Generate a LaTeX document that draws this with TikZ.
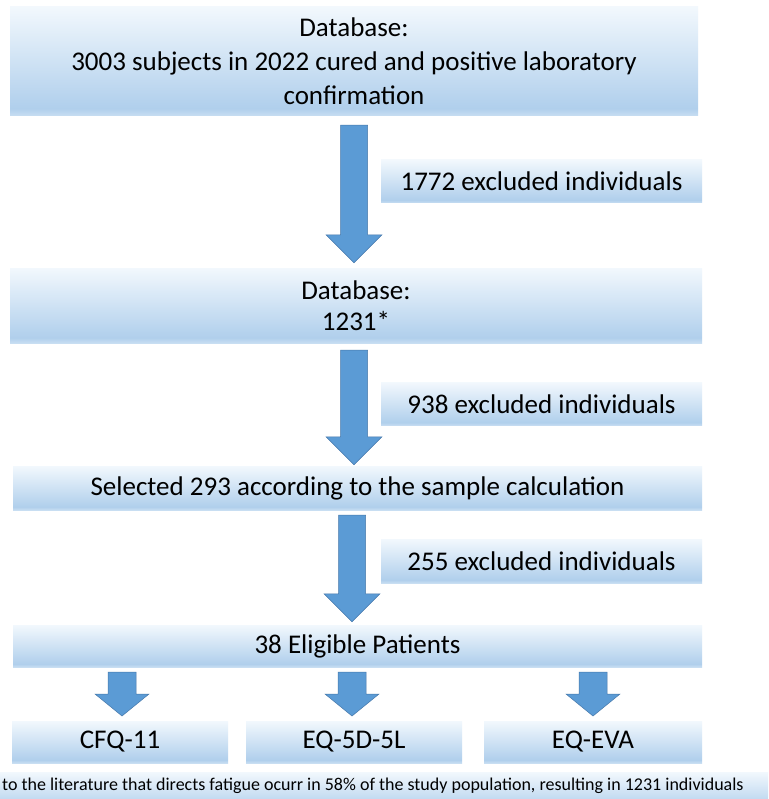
\documentclass[tikz,border=0pt]{standalone}
\usepackage{fontspec}
\setmainfont{Carlito}
\usetikzlibrary{calc}
\definecolor{arrowfill}{RGB}{91,155,213}
\definecolor{arrowline}{RGB}{70,120,170}
\definecolor{boxtop}{RGB}{242,248,253}
\definecolor{boxbot}{RGB}{176,207,236}
\definecolor{boxband}{RGB}{200,222,242}
\pgfdeclareverticalshading{officebox}{100bp}{color(0bp)=(boxband); color(25bp)=(boxband); color(28.5bp)=(boxbot); color(75bp)=(boxtop); color(100bp)=(boxtop)}
\tikzset{
  flowbox/.style={shading=officebox, inner sep=0pt, align=center,
    font=\fontsize{27}{34}\selectfont},
  blockarrow/.style={fill=arrowfill, draw=arrowline, line width=0.5pt},
  notebox/.style={shading=officebox, inner sep=0pt}
}
\newcommand\blockarr[5]{%
  \draw[blockarrow] let \p1=(#1), \p2=(#2) in
    (\x1-#3,\y1) -- (\x1+#3,\y1) -- (\x1+#3,\y2+#5) -- (\x1+#4,\y2+#5)
    -- (\x1,\y2) -- (\x1-#4,\y2+#5) -- (\x1-#3,\y2+#5) -- cycle;}
\begin{document}
\begin{tikzpicture}[x=1pt,y=-1pt]
\clip (0,0) rectangle (768,799);
\fill[white] (0,0) rectangle (768,799);
% main boxes
\node[flowbox, minimum width=688pt, minimum height=109pt] (b1) at (354,61.5)
  {Database:\\3003 subjects in 2022 cured and positive laboratory\\confirmation};
\node[flowbox, font=\fontsize{27}{31}\selectfont, minimum width=692pt, minimum height=75pt] (b2) at (356,305.5)
  {Database:\\1231*};
\node[flowbox, minimum width=689pt, minimum height=44pt] (b3) at (357.5,488)
  {Selected 293 according to the sample calculation};
\node[flowbox, minimum width=689pt, minimum height=42pt] (b4) at (357.5,646)
  {38 Eligible Patients};
% exclusion labels
\node[flowbox, minimum width=321pt, minimum height=43pt] (e1) at (541.5,181.5)
  {1772 excluded individuals};
\node[flowbox, minimum width=321pt, minimum height=43pt] (e2) at (541.5,404)
  {938 excluded individuals};
\node[flowbox, minimum width=321pt, minimum height=44pt] (e3) at (541.5,561)
  {255 excluded individuals};
% instruments
\node[flowbox, minimum width=216pt, minimum height=42pt] (c1) at (120,742) {CFQ-11};
\node[flowbox, minimum width=216pt, minimum height=42pt] (c2) at (354,742) {EQ-5D-5L};
\node[flowbox, minimum width=218pt, minimum height=42pt] (c3) at (593,742) {EQ-EVA};
% footnote
\node[notebox, minimum width=800pt, minimum height=40pt] (fnbox) at (384,792) {};
\node[anchor=west, inner sep=0pt, font=\fontsize{18}{20}\selectfont] (fn) at (2,785.5)
  {to the literature that directs fatigue ocurr in 58\% of the study population, resulting in 1231 individuals};
% arrow end points
\coordinate (a1s) at ($(b1.south)+(0,9)$);
\coordinate (a1e) at ($(b2.north)+(-2,-5)$);
\coordinate (a2s) at ($(b2.south)+(-2,7)$);
\coordinate (a2e) at ($(b3.north)+(-4,-1)$);
\coordinate (a3s) at ($(b3.south)+(-5.5,5)$);
\coordinate (a3e) at ($(b4.north)+(-5.5,-3)$);
\coordinate (s1s) at (122,672); \coordinate (s1e) at (122,716);
\coordinate (s2s) at (352,672); \coordinate (s2e) at (352,716);
\coordinate (s3s) at (593,672); \coordinate (s3e) at (593,716);
\blockarr{a1s}{a1e}{13.5pt}{28pt}{28pt}
\blockarr{a2s}{a2e}{13.5pt}{28pt}{28pt}
\blockarr{a3s}{a3e}{13.5pt}{28pt}{28pt}
\blockarr{s1s}{s1e}{14pt}{27pt}{22pt}
\blockarr{s2s}{s2e}{14pt}{27pt}{22pt}
\blockarr{s3s}{s3e}{14pt}{27pt}{22pt}
\end{tikzpicture}
\end{document}
